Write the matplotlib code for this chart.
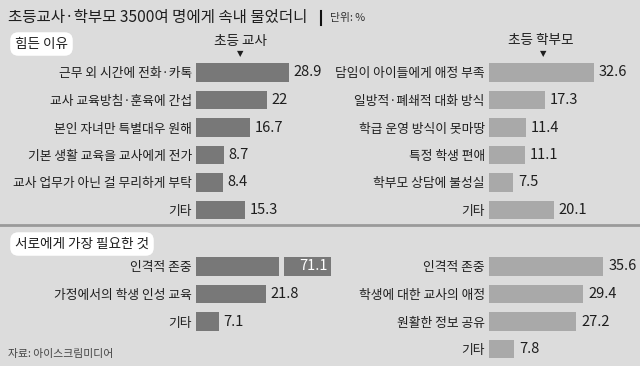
"""Teachers vs parents survey: reasons for difficulty and what each side needs."""

import matplotlib.pyplot as plt
from matplotlib.lines import Line2D

plt.rcParams["font.family"] = ["Noto Sans CJK KR", "DejaVu Sans"]

W, H = 640, 366
BG = "#dcdcdc"
DARK_BAR = "#787878"
LIGHT_BAR = "#a9a9a9"
PX_PER_UNIT = 3.21
NUM_FONT = ["Liberation Sans Narrow", "Noto Sans CJK KR", "DejaVu Sans"]

title = "초등교사·학부모 3500여 명에게 속내 물었더니"
unit = "단위: %"
source = "자료: 아이스크림미디어"

teacher_reasons = [
    "근무 외 시간에 전화·카톡",
    "교사 교육방침·훈육에 간섭",
    "본인 자녀만 특별대우 원해",
    "기본 생활 교육을 교사에게 전가",
    "교사 업무가 아닌 걸 무리하게 부탁",
    "기타",
]
teacher_reason_values = [28.9, 22, 16.7, 8.7, 8.4, 15.3]

parent_reasons = [
    "담임이 아이들에게 애정 부족",
    "일방적·폐쇄적 대화 방식",
    "학급 운영 방식이 못마땅",
    "특정 학생 편애",
    "학부모 상담에 불성실",
    "기타",
]
parent_reason_values = [32.6, 17.3, 11.4, 11.1, 7.5, 20.1]

teacher_needs = ["인격적 존중", "가정에서의 학생 인성 교육", "기타"]
teacher_need_values = [71.1, 21.8, 7.1]

parent_needs = ["인격적 존중", "학생에 대한 교사의 애정", "원활한 정보 공유", "기타"]
parent_need_values = [35.6, 29.4, 27.2, 7.8]


def fx(px):
    return px / W


def fy(py):
    return 1 - py / H


def panel(fig, left, right, top, n_rows, row_h=27.5):
    ax = fig.add_axes([fx(left), fy(top + n_rows * row_h), (right - left) / W, n_rows * row_h / H])
    ax.set_xlim(0, (right - left) / PX_PER_UNIT)
    ax.set_ylim(n_rows - 0.5, -0.5)
    ax.set_facecolor("none")
    for spine in ax.spines.values():
        spine.set_visible(False)
    ax.tick_params(axis="both", length=0)
    ax.set_xticks([])
    return ax


def draw_bars(ax, labels, values, color, skip_label=()):
    ax.barh(range(len(values)), values, height=0.67, color=color)
    ax.set_yticks(range(len(labels)), labels, fontsize=9.2, color="#1e1e1e", weight="medium")
    ax.tick_params(axis="y", pad=3)
    for i, v in enumerate(values):
        if i in skip_label:
            continue
        ax.annotate(f"{v:g}", (v, i), xytext=(3.5, 0), textcoords="offset points",
                    ha="left", va="center", fontsize=10.5, color="#1e1e1e", family=NUM_FONT)


fig = plt.figure(figsize=(W / 100, H / 100), dpi=100, facecolor=BG)

fig.text(fx(8), fy(17), title, fontsize=11.2, weight="medium", color="#1e1e1e", va="center", ha="left")
fig.add_artist(Line2D([fx(321), fx(321)], [fy(11), fy(25)], color="#111111", linewidth=1.5))
fig.text(fx(330), fy(18), unit, fontsize=7.8, color="#333333", va="center", ha="left")

box = dict(boxstyle="round,pad=0.35,rounding_size=0.6", fc="white", ec="none")
fig.text(fx(15), fy(44), "힘든 이유", fontsize=9.8, weight="medium", color="#1e1e1e",
         va="center", ha="left", bbox=box)
fig.text(fx(15), fy(244), "서로에게 가장 필요한 것", fontsize=9.8, weight="medium", color="#1e1e1e",
         va="center", ha="left", bbox=box)

fig.text(fx(240), fy(41), "초등 교사", fontsize=9.8, weight="medium", color="#1e1e1e", va="center", ha="center")
fig.text(fx(240), fy(54), "▼", fontsize=6, color="#1e1e1e", va="center", ha="center", family="DejaVu Sans")
fig.text(fx(541), fy(40), "초등 학부모", fontsize=9.8, weight="medium", color="#1e1e1e", va="center", ha="center")
fig.text(fx(543), fy(54), "▼", fontsize=6, color="#1e1e1e", va="center", ha="center", family="DejaVu Sans")

# separator between the two sections
fig.add_artist(Line2D([0, 1], [fy(225), fy(225)], color="#9a9a9a", linewidth=2))

ax_tl = panel(fig, 196, 330, 58.75, len(teacher_reasons))
draw_bars(ax_tl, teacher_reasons, teacher_reason_values, DARK_BAR)

ax_tr = panel(fig, 489, 640, 58.75, len(parent_reasons))
draw_bars(ax_tr, parent_reasons, parent_reason_values, LIGHT_BAR)

ax_bl = panel(fig, 196, 331, 252.75, len(teacher_needs))
draw_bars(ax_bl, teacher_needs, teacher_need_values, DARK_BAR, skip_label=(0,))
# broken bar for the out-of-scale value
gap_start = (279 - 196) / PX_PER_UNIT
ax_bl.barh(0, 5 / PX_PER_UNIT, left=gap_start, height=0.8, color=BG)
xmax = ax_bl.get_xlim()[1]
ax_bl.annotate(f"{teacher_need_values[0]:g}", (xmax, 0), xytext=(-2, 0), textcoords="offset points",
               ha="right", va="center", fontsize=10.5, color="white", family=NUM_FONT)

ax_br = panel(fig, 489, 640, 252.75, len(parent_needs))
draw_bars(ax_br, parent_needs, parent_need_values, LIGHT_BAR)

fig.text(fx(8), fy(354), source, fontsize=7.8, color="#444444", va="center", ha="left")

fig.savefig("out.png", dpi=100, facecolor=BG)
